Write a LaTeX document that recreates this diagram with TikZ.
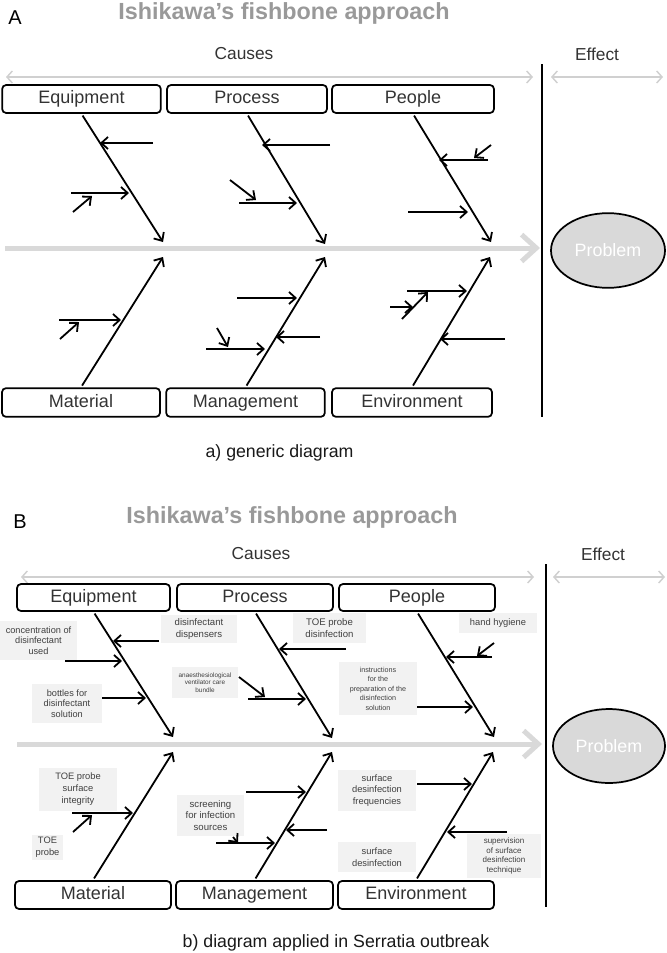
\documentclass[tikz,border=0pt]{standalone}
\usepackage{fontspec}
\setmainfont{Liberation Sans}
\usetikzlibrary{arrows.meta,shapes.geometric}
\definecolor{spinegray}{HTML}{D9D9D9}
\definecolor{capgray}{HTML}{D0D0D0}
\definecolor{ttlgray}{HTML}{999999}
\definecolor{lblfill}{HTML}{F2F2F2}
\definecolor{txtdark}{HTML}{333333}
\tikzset{
  cbox/.style={draw, rounded corners=3pt, line width=1.3pt, inner sep=0pt, text=txtdark,
    text height=9.7pt, text depth=2.8pt, font=\fontsize{13.5}{14}\selectfont},
  ttl/.style={text=ttlgray, font=\bfseries\fontsize{17.5}{18}\selectfont, anchor=base, inner sep=0pt},
  hdr/.style={font=\fontsize{13}{14}\selectfont, text=txtdark, inner sep=0pt},
  panel/.style={font=\fontsize{15}{16}\selectfont, anchor=base, inner sep=0pt},
  capt/.style={font=\fontsize{13.3}{14}\selectfont, text=black!90, inner sep=0pt},
  lbl/.style={fill=lblfill, align=center, inner sep=0pt, text=black!75},
  bonearr/.style={line width=1.35pt, -{Straight Barb[length=5pt,width=9pt]}},
  spinearr/.style={line width=3.75pt, draw=spinegray, -{Straight Barb[length=11pt,width=20pt]}},
  dblarr/.style={line width=1.1pt, draw=capgray, {Straight Barb[length=4pt,width=9pt]}-{Straight Barb[length=4pt,width=9pt]}},
  divline/.style={line width=1.4pt},
  probl/.style={ellipse, draw, line width=1.3pt, fill=spinegray, text=white, inner sep=0pt,
    font=\fontsize{13.4}{14}\selectfont},
}
\begin{document}
\begin{tikzpicture}[x=0.75pt,y=-0.75pt]
\useasboundingbox (0,0) rectangle (667,953);

% ================= PANEL A =================
\node[panel] (labA) at (15,24) {A};
\node[ttl] (ttlA) at (284,19) {Ishikawa’s fishbone approach};
\node[hdr] (causA) at (244,54) {Causes};
\node[hdr] (effA) at (597,54) {Effect};
\coordinate (cAl) at (6,77);   \coordinate (cAr) at (533,77);
\coordinate (eAl) at (551,77); \coordinate (eAr) at (663,77);
\draw[dblarr] (cAl) -- (cAr);
\draw[dblarr] (eAl) -- (eAr);
\coordinate (vAt) at (542,64); \coordinate (vAb) at (542,417);
\draw[divline] (vAt) -- (vAb);
\coordinate (sAl) at (5,248); \coordinate (sAr) at (540,248);
\draw[spinearr] (sAl) -- (sAr);
\node[probl, minimum width=85.5pt, minimum height=56pt] (probA) at (608,250.5) {Problem};

\node[cbox, minimum width=119pt, minimum height=21pt] (eqA) at (81.5,99) {Equipment};
\node[cbox, minimum width=120pt, minimum height=21pt] (prA) at (247,99) {Process};
\node[cbox, minimum width=121.5pt, minimum height=21pt] (peA) at (413,99) {People};
\node[cbox, minimum width=118.5pt, minimum height=21.5pt] (maA) at (81,402.5) {Material};
\node[cbox, minimum width=119pt, minimum height=21.5pt] (mgA) at (245.5,402.5) {Management};
\node[cbox, minimum width=120pt, minimum height=21.5pt] (enA) at (412,402.5) {Environment};

% bones
\coordinate (eqAe) at (163,242); \coordinate (prAe) at (325,244); \coordinate (peAe) at (491,242);
\coordinate (maAe) at (163,257); \coordinate (mgAe) at (325,257); \coordinate (enAe) at (490,257);
\draw[bonearr, shorten <=1.5pt] (eqA.south) -- (eqAe);
\draw[bonearr, shorten <=1.5pt] (prA.south) -- (prAe);
\draw[bonearr, shorten <=1.5pt] (peA.south) -- (peAe);
\draw[bonearr, shorten <=1.5pt] (maA.north) -- (maAe);
\draw[bonearr, shorten <=1.5pt] (mgA.north) -- (mgAe);
\draw[bonearr, shorten <=1.5pt] (enA.north) -- (enAe);

% Equipment A
\coordinate (a1s) at (153,143); \coordinate (a1e) at (100,143);
\coordinate (a2s) at (71,193);  \coordinate (a2e) at (129,193);
\coordinate (a3s) at (73,212);  \coordinate (a3e) at (92,196);
\draw[bonearr] (a1s) -- (a1e); \draw[bonearr] (a2s) -- (a2e); \draw[bonearr] (a3s) -- (a3e);
% Process A
\coordinate (a4s) at (330,145); \coordinate (a4e) at (262,145);
\coordinate (a5s) at (239,203); \coordinate (a5e) at (297,203);
\coordinate (a6s) at (230,180); \coordinate (a6e) at (256,200);
\draw[bonearr] (a4s) -- (a4e); \draw[bonearr] (a5s) -- (a5e); \draw[bonearr] (a6s) -- (a6e);
% People A
\coordinate (a7s) at (488,160); \coordinate (a7e) at (439,160);
\coordinate (a8s) at (491,145); \coordinate (a8e) at (474,158);
\coordinate (a9s) at (408,212); \coordinate (a9e) at (468,212);
\draw[bonearr] (a7s) -- (a7e); \draw[bonearr] (a8s) -- (a8e); \draw[bonearr] (a9s) -- (a9e);
% Material A
\coordinate (a10s) at (59,320); \coordinate (a10e) at (121,320);
\coordinate (a11s) at (60,339); \coordinate (a11e) at (79,322);
\draw[bonearr] (a10s) -- (a10e); \draw[bonearr] (a11s) -- (a11e);
% Management A
\coordinate (a12s) at (237,298); \coordinate (a12e) at (297,298);
\coordinate (a13s) at (320,337); \coordinate (a13e) at (276,337);
\coordinate (a14s) at (206,349); \coordinate (a14e) at (265,349);
\coordinate (a15s) at (217,328); \coordinate (a15e) at (228,347);
\draw[bonearr] (a12s) -- (a12e); \draw[bonearr] (a13s) -- (a13e);
\draw[bonearr] (a14s) -- (a14e); \draw[bonearr] (a15s) -- (a15e);
% Environment A
\coordinate (a16s) at (407,291); \coordinate (a16e) at (467,291);
\coordinate (a17s) at (402,319); \coordinate (a17e) at (428,292);
\coordinate (a18s) at (390,307); \coordinate (a18e) at (413,307);
\coordinate (a19s) at (505,339); \coordinate (a19e) at (440,339);
\draw[bonearr] (a16s) -- (a16e); \draw[bonearr] (a17s) -- (a17e);
\draw[bonearr] (a18s) -- (a18e); \draw[bonearr] (a19s) -- (a19e);

\node[capt] (capA) at (279.5,453) {a) generic diagram};

% ================= PANEL B =================
\node[panel] (labB) at (20,528) {B};
\node[ttl] (ttlB) at (292,523) {Ishikawa’s fishbone approach};
\node[hdr] (causB) at (261,554) {Causes};
\node[hdr] (effB) at (603,554) {Effect};
\coordinate (cBl) at (21,577);  \coordinate (cBr) at (534,577);
\coordinate (eBl) at (553,577); \coordinate (eBr) at (665,577);
\draw[dblarr] (cBl) -- (cBr);
\draw[dblarr] (eBl) -- (eBr);
\coordinate (vBt) at (546,564); \coordinate (vBb) at (546,907);
\draw[divline] (vBt) -- (vBb);
\coordinate (sBl) at (17,744); \coordinate (sBr) at (542,744);
\draw[spinearr] (sBl) -- (sBr);
\node[probl, minimum width=84pt, minimum height=55.5pt] (probB) at (609,746) {Problem};

\node[cbox, minimum width=114.75pt, minimum height=20.25pt] (eqB) at (93.5,597.5) {Equipment};
\node[cbox, minimum width=117pt, minimum height=20.25pt] (prB) at (255,597.5) {Process};
\node[cbox, minimum width=117pt, minimum height=20.25pt] (peB) at (417,597.5) {People};
\node[cbox, minimum width=117pt, minimum height=21pt] (maB) at (93,895) {Material};
\node[cbox, minimum width=117.75pt, minimum height=21pt] (mgB) at (254.5,895) {Management};
\node[cbox, minimum width=117pt, minimum height=21pt] (enB) at (416,895) {Environment};

% labels
\node[lbl, minimum width=57.75pt, minimum height=29.25pt, font=\fontsize{6.9}{7.9}\selectfont] (lconc) at (38.5,640.5) {concentration of\\disinfectant\\used};
\node[lbl, minimum width=52.5pt, minimum height=29.25pt, font=\fontsize{6.9}{7.8}\selectfont] (lbott) at (67,703.5) {bottles for\\disinfectant\\solution};
\node[lbl, minimum width=57pt, minimum height=21pt, font=\fontsize{7.2}{8.5}\selectfont] (ldisp) at (199,629) {disinfectant\\dispensers};
\node[lbl, minimum width=54.75pt, minimum height=22.5pt, font=\fontsize{7.2}{8.5}\selectfont] (ltoed) at (329.5,628) {TOE probe\\disinfection};
\node[lbl, minimum width=49.5pt, minimum height=23.25pt, font=\fontsize{4.8}{5.8}\selectfont] (lanae) at (205,682.5) {anaesthesiological\\ventilator care\\bundle};
\node[lbl, minimum width=58.5pt, minimum height=15pt, font=\fontsize{7}{8}\selectfont] (lhand) at (498,623) {hand hygiene};
\node[lbl, minimum width=58.5pt, minimum height=39.75pt, font=\fontsize{5.4}{7.1}\selectfont] (linst) at (378,688.5) {instructions\\for the\\preparation of the\\disinfection\\solution};
\node[lbl, minimum width=58.5pt, minimum height=32.25pt, font=\fontsize{7}{9}\selectfont] (ltoes) at (78,789.5) {TOE probe\\surface\\integrity};
\node[lbl, minimum width=23.25pt, minimum height=18.75pt, font=\fontsize{7}{9}\selectfont] (ltoep) at (47.5,847.5) {TOE\\probe};
\node[lbl, minimum width=50.25pt, minimum height=30.75pt, font=\fontsize{7.2}{8.75}\selectfont] (lscre) at (210.5,815.5) {screening\\for infection\\sources};
\node[lbl, minimum width=58.5pt, minimum height=30.75pt, font=\fontsize{7}{8.75}\selectfont] (lfreq) at (377,790.5) {surface\\desinfection\\frequencies};
\node[lbl, minimum width=58.5pt, minimum height=22.5pt, font=\fontsize{7}{8.75}\selectfont] (lsurf) at (377,857) {surface\\desinfection};
\node[lbl, minimum width=55.5pt, minimum height=33pt, font=\fontsize{6}{7.25}\selectfont] (lsupv) at (504,856) {supervision\\of surface\\desinfection\\technique};

% bones
\coordinate (eqBe) at (173,737); \coordinate (prBe) at (332,738); \coordinate (peBe) at (494,737);
\coordinate (maBe) at (173,752); \coordinate (mgBe) at (332,752); \coordinate (enBe) at (493,752);
\draw[bonearr, shorten <=1.5pt] (eqB.south) -- (eqBe);
\draw[bonearr, shorten <=1.5pt] (prB.south) -- (prBe);
\draw[bonearr, shorten <=1.5pt] (peB.south) -- (peBe);
\draw[bonearr, shorten <=1.5pt] (maB.north) -- (maBe);
\draw[bonearr, shorten <=1.5pt] (mgB.north) -- (mgBe);
\draw[bonearr, shorten <=1.5pt] (enB.north) -- (enBe);

% Equipment B
\coordinate (b1s) at (159,641); \coordinate (b1e) at (113,641);
\coordinate (b2s) at (65,661);  \coordinate (b2e) at (122,661);
\coordinate (b3s) at (102,698); \coordinate (b3e) at (146,698);
\draw[bonearr] (b1s) -- (b1e); \draw[bonearr] (b2s) -- (b2e); \draw[bonearr] (b3s) -- (b3e);
% Process B
\coordinate (b4s) at (346,649); \coordinate (b4e) at (279,649);
\coordinate (b5s) at (248,699); \coordinate (b5e) at (306,699);
\coordinate (b6s) at (239,677); \coordinate (b6e) at (265,697);
\draw[bonearr] (b4s) -- (b4e); \draw[bonearr] (b5s) -- (b5e); \draw[bonearr] (b6s) -- (b6e);
% People B
\coordinate (b7s) at (492,657); \coordinate (b7e) at (446,657);
\coordinate (b8s) at (494,643); \coordinate (b8e) at (477,656);
\coordinate (b9s) at (417,707); \coordinate (b9e) at (473,707);
\draw[bonearr] (b7s) -- (b7e); \draw[bonearr] (b8s) -- (b8e); \draw[bonearr] (b9s) -- (b9e);
% Material B
\coordinate (b10s) at (72,813); \coordinate (b10e) at (133,813);
\coordinate (b11s) at (73,832); \coordinate (b11e) at (92,815);
\draw[bonearr] (b10s) -- (b10e); \draw[bonearr] (b11s) -- (b11e);
% Management B
\coordinate (b12s) at (246,792); \coordinate (b12e) at (306,792);
\coordinate (b13s) at (327,830); \coordinate (b13e) at (286,830);
\coordinate (b14s) at (216,843); \coordinate (b14e) at (275,843);
\coordinate (b15s) at (233,837); \coordinate (b15e) at (238,843);
\draw[bonearr] (b12s) -- (b12e); \draw[bonearr] (b13s) -- (b13e);
\draw[bonearr] (b14s) -- (b14e); \draw[bonearr] (b15s) -- (b15e);
% Environment B
\coordinate (b16s) at (417,784); \coordinate (b16e) at (472,784);
\coordinate (b17s) at (507,832); \coordinate (b17e) at (447,832);
\draw[bonearr] (b16s) -- (b16e); \draw[bonearr] (b17s) -- (b17e);

\node[capt] (capB) at (336,943) {b) diagram applied in Serratia outbreak};
\end{tikzpicture}
\end{document}
